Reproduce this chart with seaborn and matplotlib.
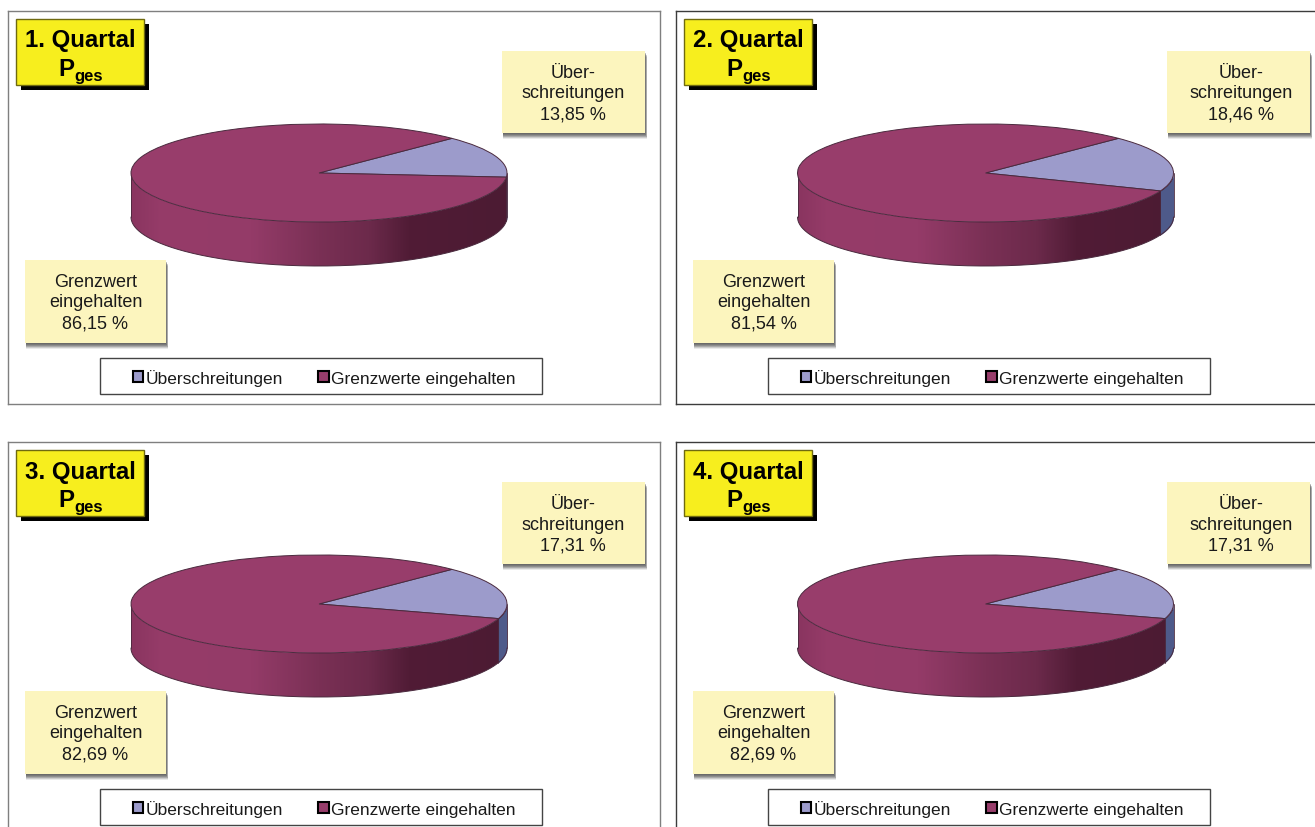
import numpy as np
import matplotlib
matplotlib.use("Agg")
import matplotlib.pyplot as plt
from matplotlib.colors import LinearSegmentedColormap
from matplotlib.patches import Rectangle, Patch
import seaborn as sns

quarters = ["1. Quartal", "2. Quartal", "3. Quartal", "4. Quartal"]
exceeded = [13.85, 18.46, 17.31, 17.31]
compliant = [86.15, 81.54, 82.69, 82.69]
legend_labels = ["Überschreitungen", "Grenzwerte eingehalten"]
callout_exceeded = "Über-\nschreitungen\n{} %"
callout_compliant = "Grenzwert\neingehalten\n{} %"

sns.set_theme(style="white")
plt.rcParams["font.family"] = ["Liberation Sans", "DejaVu Sans"]
palette = sns.color_palette(["#9C9BCB", "#983D6B"])
BLUE_WALL = "#4E5A8A"
OUTLINE = "#4A2A3E"
wall_cmap = LinearSegmentedColormap.from_list(
    "wall", [(0, "#8A3560"), (0.08, "#963C69"), (0.32, "#943B68"), (0.5, "#7A3055"),
             (0.635, "#6C2A4B"), (0.74, "#511C36"), (1, "#4C1B33")])

W, H = 1315, 828
fig = plt.figure(figsize=(W / 100, H / 100), dpi=100, facecolor="white")


def px_axes(x0, y0, x1, y1):
    return fig.add_axes([x0 / W, 1 - y1 / H, (x1 - x0) / W, (y1 - y0) / H])


def shadowed_box(ax, x, y, w, h):
    for i, a in zip(range(6, 0, -1), [0.12, 0.2, 0.28, 0.32, 0.36, 0.4]):
        ax.add_patch(Rectangle((x + 1, y + i), w - 1 + i * 0.4, h, fc="#555555", ec="none", alpha=a, zorder=2))
    ax.add_patch(Rectangle((x, y), w, h, fc="#FCF5BE", ec="none", zorder=3))


def draw_pie(cx, cy, rx, ry, depth, values):
    pad = 1.03
    ax = px_axes(cx - rx * pad, cy - ry * pad, cx + rx * pad, cy + ry + depth + 3)
    ax.patch.set_alpha(0)
    ax.pie(values, colors=palette, startangle=45, counterclock=False, radius=1,
           wedgeprops=dict(edgecolor=OUTLINE, linewidth=0.7, zorder=5))
    ax.set_aspect("auto")
    d = depth / ry
    # side wall, derived from the slice boundary
    split = 45 - values[0] / sum(values) * 360
    th = np.radians(np.linspace(-180, 0, 361))
    x, top = np.cos(th), np.sin(th)
    poly = ax.fill_between(x, top - d, top, color="none", lw=0)
    grad = ax.imshow(np.linspace(0, 1, 400)[None, :], extent=(-1, 1, -1 - d, 1), cmap=wall_cmap,
                     aspect="auto", zorder=1, vmin=0, vmax=1)
    grad.set_clip_path(poly.get_paths()[0], transform=ax.transData)
    ax.set_xlim(-pad, pad)
    ax.set_ylim(-1 - d - 3 / ry, pad)
    ts = np.radians(np.linspace(split, 0, 40))
    ax.fill_between(np.cos(ts), np.sin(ts) - d, np.sin(ts), color=BLUE_WALL, lw=0, zorder=2)
    ax.plot(x, top - d, color=OUTLINE, lw=0.7, zorder=4)
    for t in [np.radians(split), 0.0, np.pi]:
        ax.plot([np.cos(t)] * 2, [np.sin(t) - d, np.sin(t)], color=OUTLINE, lw=0.6, zorder=4)
    return ax


panel_origins = [(8, 12), (676, 12), (8, 443), (676, 443)]
over_x = [494, 491, 494, 491]
over_text_x = [565, 565, 565, 565]
pie_cx = [311, 309.5, 311, 309.5]

for i, (ox, oy) in enumerate(panel_origins):
    ax = px_axes(ox, oy, ox + 652, oy + 393)
    ax.set_xlim(0, 652)
    ax.set_ylim(393, 0)
    ax.set_xticks([])
    ax.set_yticks([])
    ax.set_facecolor("white")
    for s in ax.spines.values():
        s.set_visible(True)
        s.set_color("#7F7F7F" if i % 2 == 0 else "#3C3C3C")
        s.set_linewidth(1)
    # title tag
    ax.add_patch(Rectangle((13, 13), 128, 66, fc="black", ec="none", zorder=4))
    ax.add_patch(Rectangle((8, 8), 128, 66, fc="#F7EE1E", ec="#6F6A10", lw=1, zorder=5))
    ax.text(72, 29, quarters[i], ha="center", va="center", fontsize=17.3, fontweight="bold", color="black", zorder=6)
    ax.text(66, 64, "P", ha="right", va="baseline", fontsize=17.3, fontweight="bold", color="black", zorder=6)
    ax.text(66, 69, "ges", ha="left", va="baseline", fontsize=12, fontweight="bold", color="black", zorder=6)
    # callouts
    shadowed_box(ax, over_x[i], 40, 143, 82)
    ax.text(over_text_x[i], 82, callout_exceeded.format(f"{exceeded[i]:.2f}".replace(".", ",")),
            ha="center", va="center", fontsize=13, linespacing=1.27, color="#1A1A1A", zorder=6)
    shadowed_box(ax, 17, 249, 141, 83)
    ax.text(87.5, 291, callout_compliant.format(f"{compliant[i]:.2f}".replace(".", ",")),
            ha="center", va="center", fontsize=13, linespacing=1.27, color="#1A1A1A", zorder=6)
    # legend
    ax.add_patch(Rectangle((92, 347), 442, 36, fc="white", ec="#444444", lw=1, zorder=3))
    handles = [Patch(facecolor=palette[0], edgecolor="black", linewidth=1.5),
               Patch(facecolor=palette[1], edgecolor="black", linewidth=1.5)]
    leg = ax.legend(handles, legend_labels, ncols=2, loc="center", bbox_to_anchor=(316, 366.5),
                    bbox_transform=ax.transData, frameon=False, fontsize=12.5, handlelength=0.6,
                    handleheight=0.6, handletextpad=0.12, columnspacing=2.05, borderpad=0)
    leg.set_zorder(6)
    for t in leg.get_texts():
        t.set_color("#1A1A1A")
    # pie
    draw_pie(ox + pie_cx[i], oy + 162, 188, 49, 44, [exceeded[i], compliant[i]])

fig.savefig("out.png", dpi=100, facecolor="white")
